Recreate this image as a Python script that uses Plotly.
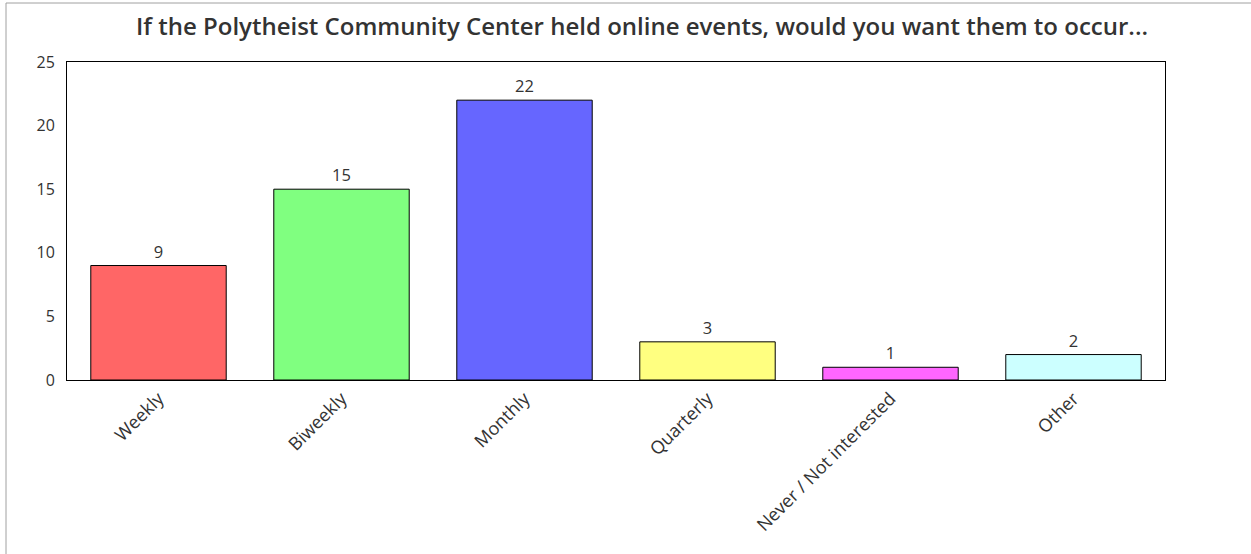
import plotly.graph_objects as go

categories = ["Weekly", "Biweekly", "Monthly", "Quarterly", "Never / Not interested", "Other"]
values = [9, 15, 22, 3, 1, 2]
bar_colors = ["#FF6666", "#80FF80", "#6666FF", "#FFFF80", "#FF66FF", "#CCFFFF"]
y_ticks = [0, 5, 10, 15, 20, 25]
title_text = "If the Polytheist Community Center held online events, would you want them to occur..."

W, H = 1251, 554
L, R, T, B = 67, 86, 62, 174
pw, ph = W - L - R, H - T - B

fig = go.Figure()
fig.add_trace(go.Bar(
    x=categories, y=values,
    marker=dict(color=bar_colors, line=dict(color="#000000", width=1)),
    width=0.74,
    text=[str(v) for v in values], textposition="outside",
    textfont=dict(family="Open Sans", size=16.5, color="#333333"),
    cliponaxis=False,
    hoverinfo="x+y",
))

def px_x(x):
    return (x - L) / pw

def px_y(y):
    return (H - B - y) / ph

fig.update_layout(
    width=W, height=H,
    margin=dict(l=L, r=R, t=T, b=B),
    paper_bgcolor="white", plot_bgcolor="white",
    showlegend=False,
    font=dict(family="Open Sans", size=16, color="#333333"),
    title=dict(text=title_text, xref="container", x=642 / W, xanchor="center",
               yref="container", y=1 - 27 / H, yanchor="middle",
               font=dict(family="Open Sans", size=24, weight=600, color="#333333")),
    xaxis=dict(showline=True, linecolor="#000000", linewidth=1, mirror=True,
               showgrid=False, tickangle=-45, ticks="",
               tickfont=dict(family="Open Sans", size=18, color="#333333")),
    yaxis=dict(range=[0, 25], tickvals=y_ticks, showline=True, linecolor="#000000",
               linewidth=1, mirror=True, showgrid=False, zeroline=False, ticks="",
               ticklabelstandoff=8,
               tickfont=dict(family="Open Sans", size=16, color="#333333")),
    shapes=[dict(type="rect", xref="paper", yref="paper",
                 x0=px_x(6), x1=px_x(W + 10), y0=px_y(H + 10), y1=px_y(3),
                 line=dict(color="#A0A0A0", width=1), fillcolor="rgba(0,0,0,0)",
                 layer="below")],
)

fig.write_html("out.html")
